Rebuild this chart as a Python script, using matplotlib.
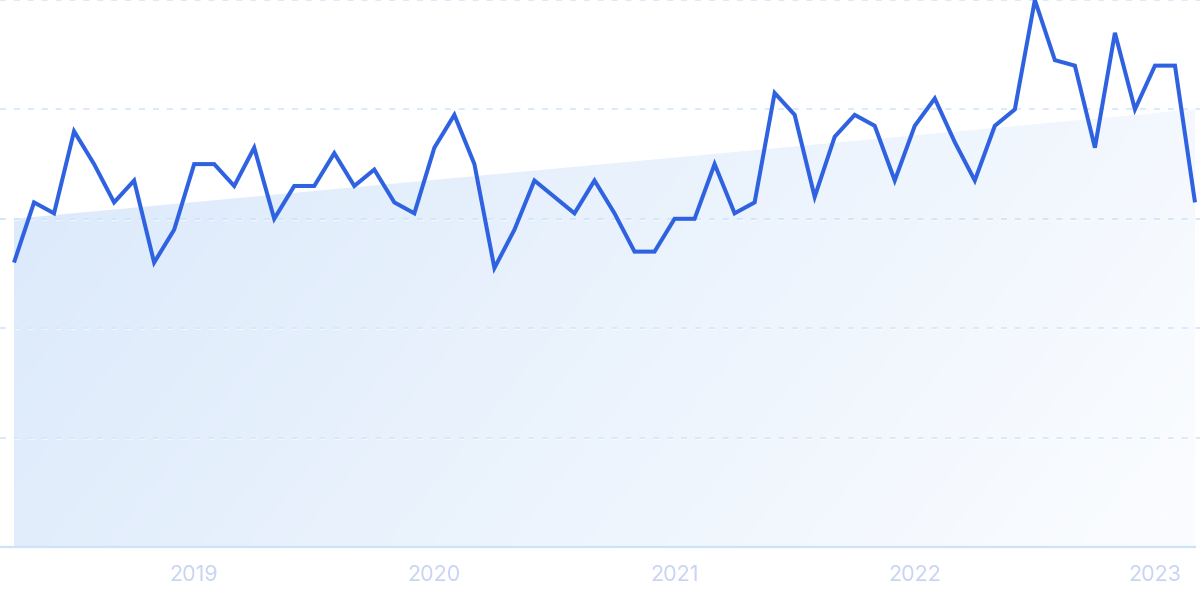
import numpy as np
import matplotlib
matplotlib.use("Agg")
import matplotlib.pyplot as plt
from matplotlib.patches import Polygon
import matplotlib.patheffects as pe

# ---- data ----
start_year, start_month = 2018, 4   # first point: Apr 2018
values = [52, 63, 61, 76, 70, 63, 67, 52, 58, 70, 70, 66, 73, 60, 66, 66, 72, 66, 69, 63,
          61, 73, 79, 70, 51, 58, 67, 64, 61, 67, 61, 54, 54, 60, 60, 70, 61, 63, 83, 79,
          64, 75, 79, 77, 67, 77, 82, 74, 67, 77, 80, 100, 89, 88, 73, 94, 80, 88, 88, 63]
trend_start, trend_end = 60, 80
tick_labels = ["2019", "2020", "2021", "2022", "2023"]
grid_values = [20, 40, 60, 80, 100]

n = len(values)
x = np.arange(n)
tick_pos = [(int(lbl) - start_year) * 12 + (1 - start_month) for lbl in tick_labels]

fig = plt.figure(figsize=(12, 5.99), dpi=100)
ax = fig.add_axes([0, 1 - 547 / 599, 1, 547 / 599])
ax.set_xlim(-0.7, n - 1 + 0.25)
ax.set_ylim(0, 100)

# trend area with gradient
poly_pts = [(0, 0), (0, trend_start), (n - 1, trend_end), (n - 1, 0)]
poly = Polygon(poly_pts, closed=True, facecolor="none", edgecolor="none")
ax.add_patch(poly)
H, W = 200, 400
xf = np.linspace(0, 1, W)[None, :]
yf = np.linspace(0, 1, H)[:, None]  # 0 bottom -> 1 top
t = np.clip(0.85 * xf + 0.25 * (1 - yf) - 0.05, 0, 1)
c0 = np.array([220, 234, 251]) / 255
c1 = np.array([250, 252, 255]) / 255
img = c0[None, None, :] * (1 - t[..., None]) + c1[None, None, :] * t[..., None]
im = ax.imshow(img, extent=[0, n - 1, 0, trend_end], origin="lower", aspect="auto",
               zorder=1, interpolation="bilinear")
im.set_clip_path(poly)

# gridlines (drawn over the fill)
for g in grid_values:
    col = "#c4e2fb" if g == 60 else "#d0e4fb"
    ax.axhline(g, color=col, lw=1.1, ls=(0, (3.9, 5.2)), zorder=3, clip_on=False,
               path_effects=[pe.Stroke(linewidth=2.2, foreground="white", alpha=0.6), pe.Normal()])

# main line
ax.plot(x, values, color="#2f62e0", lw=2.9, zorder=4, solid_joinstyle="miter",
        solid_capstyle="butt")

# baseline
ax.plot([-0.7, n - 1], [0, 0], color="#cde3f8", lw=1.6, zorder=3, clip_on=False)

for s in ax.spines.values():
    s.set_visible(False)
ax.set_yticks([])
ax.set_xticks(tick_pos)
ax.set_xticklabels(tick_labels, fontsize=15.5, color="#c8d4f4", family=["Inter", "DejaVu Sans"])
ax.tick_params(axis="x", length=0, pad=13)

fig.savefig("out.png", dpi=100, facecolor="white")
